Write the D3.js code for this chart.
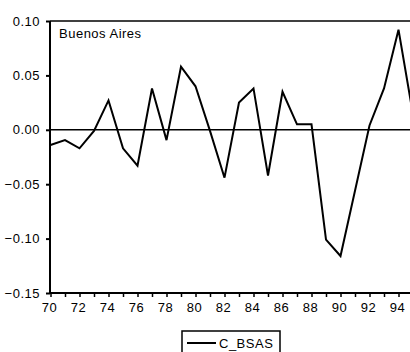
<!DOCTYPE html>
<html>
<head>
<meta charset="utf-8">
<script src="https://cdn.jsdelivr.net/npm/d3@7"></script>
<style>
  body { margin: 0; background: #fff; }
  text { font-family: "Liberation Sans", Arial, sans-serif; font-size: 13px; letter-spacing: 0.5px; fill: #000; }
</style>
</head>
<body>
<div id="chart"></div>
<script>
const years = [70, 71, 72, 73, 74, 75, 76, 77, 78, 79, 80, 81, 82, 83, 84, 85, 86, 87, 88, 89, 90, 91, 92, 93, 94, 95];
const cBsas = [-0.014, -0.0095, -0.017, -0.001, 0.027, -0.017, -0.033, 0.038, -0.0095, 0.058, 0.040, -0.001, -0.044, 0.025, 0.038, -0.042, 0.035, 0.005, 0.005, -0.101, -0.116, -0.056, 0.004, 0.038, 0.092, 0.014];
const yTicks = [0.10, 0.05, 0.00, -0.05, -0.10, -0.15];
const xLabels = [70, 72, 74, 76, 78, 80, 82, 84, 86, 88, 90, 92, 94];
const seriesName = 'C_BSAS';
const panelTitle = 'Buenos Aires';

const width = 410, height = 352;
const plotLeft = 50, plotTop = 21, plotBottom = 293;
const fontStack = '"Liberation Sans", Arial, sans-serif';

const svg = d3.select('#chart').append('svg')
  .attr('width', width)
  .attr('height', height);

const x = d3.scaleLinear().domain([70, 97]).range([50.5, 50.5 + 27 * 14.5]);
const y = d3.scaleLinear().domain([-0.15, 0.10]).range([plotBottom, plotTop]);

// Frame top line and zero line
svg.append('line')
  .attr('x1', plotLeft).attr('x2', width + 10)
  .attr('y1', y(0.10)).attr('y2', y(0.10))
  .attr('stroke', '#000').attr('stroke-width', 1.5);

svg.append('line')
  .attr('x1', plotLeft).attr('x2', width + 10)
  .attr('y1', y(0)).attr('y2', y(0))
  .attr('stroke', '#000').attr('stroke-width', 1.5);

// Y axis
const yAxis = svg.append('g')
  .attr('transform', `translate(${plotLeft},0)`)
  .call(d3.axisLeft(y).tickValues(yTicks).tickSize(4).tickPadding(6).tickFormat(d3.format('.2f')));
yAxis.select('.domain').attr('stroke', '#000').attr('stroke-width', 2).attr('d', `M0,${plotTop}V${plotBottom}`);
yAxis.selectAll('.tick line').attr('stroke', '#000').attr('stroke-width', 2);
yAxis.selectAll('text')
  .attr('fill', '#000')
  .style('font-size', '13px')
  .style('font-family', fontStack);

// X axis (yearly ticks, labels every other year)
const xAxis = svg.append('g')
  .attr('transform', `translate(0,${plotBottom})`)
  .call(d3.axisBottom(x).tickValues(d3.range(70, 97)).tickSize(4).tickPadding(6)
    .tickFormat((d) => (xLabels.includes(d) ? d : '')));
xAxis.select('.domain').attr('stroke', '#000').attr('stroke-width', 2).attr('d', `M${plotLeft},0H${width + 10}`);
xAxis.selectAll('.tick line').attr('stroke', '#000').attr('stroke-width', 1.5);
xAxis.selectAll('text')
  .attr('fill', '#000')
  .attr('dx', -1.5)
  .style('font-size', '13px')
  .style('font-family', fontStack);

// Series line
const line = d3.line()
  .x((d, i) => x(years[i]))
  .y((d) => y(d));

svg.append('path')
  .datum(cBsas)
  .attr('fill', 'none')
  .attr('stroke', '#000')
  .attr('stroke-width', 2)
  .attr('stroke-linejoin', 'miter')
  .attr('d', line);

// Panel title
svg.append('text')
  .attr('x', 59)
  .attr('y', 38)
  .text(panelTitle);

// Legend
const legend = svg.append('g').attr('transform', 'translate(182,331)');
legend.append('rect')
  .attr('width', 98).attr('height', 30)
  .attr('fill', 'none').attr('stroke', '#000').attr('stroke-width', 1.5);
legend.append('line')
  .attr('x1', 5).attr('x2', 34)
  .attr('y1', 12).attr('y2', 12)
  .attr('stroke', '#000').attr('stroke-width', 2);
legend.append('text')
  .attr('x', 37)
  .attr('y', 16.5)
  .text(seriesName);
</script>
</body>
</html>
